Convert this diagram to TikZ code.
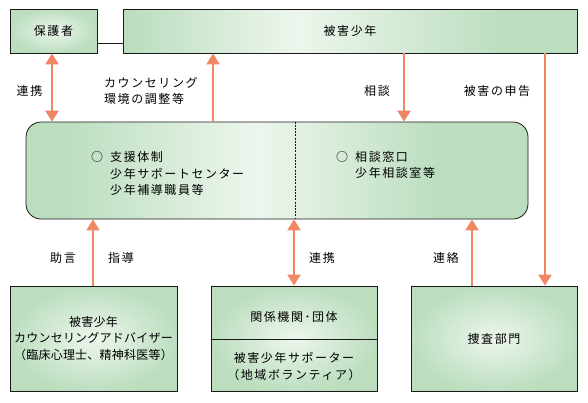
\documentclass[tikz,border=0pt]{standalone}
\usepackage{fontspec}
\setmainfont{Noto Sans CJK JP}[LetterSpace=13]
\newfontfamily\jpn{Noto Sans CJK JP}[LetterSpace=2]
\usetikzlibrary{arrows.meta,calc}
\definecolor{gA}{RGB}{188,222,191}
\definecolor{gL}{RGB}{237,246,237}
\definecolor{arr}{RGB}{240,134,98}
\definecolor{ink}{RGB}{25,25,25}
\pgfdeclarehorizontalshading{midsh}{100bp}{color(0bp)=(gA); color(29bp)=(gA); color(48bp)=(gL); color(66bp)=(gA); color(100bp)=(gA)}
\pgfdeclarehorizontalshading{topsh}{100bp}{color(0bp)=(gA); color(26bp)=(gA); color(44bp)=(gL); color(67bp)=(gA); color(100bp)=(gA)}
\tikzset{
  box/.style={draw=ink, line width=0.8pt, inner sep=0pt, shade, inner color=gL, outer color=gA},
  hbox/.style={draw=ink, line width=0.8pt, inner sep=0pt, shade, shading=topsh},
  lab/.style={inner sep=0pt, font=\fontsize{12}{16.5}\selectfont},
  conn/.style={draw=arr, line width=2pt},
  tipA/.style={-{Triangle[width=13pt,length=11pt]}},
  tipB/.style={{Triangle[width=13pt,length=11pt]}-{Triangle[width=13pt,length=11pt]}},
}
\begin{document}
\begin{tikzpicture}[x=1pt,y=-1pt]
\useasboundingbox (0,0) rectangle (588,402);
% boxes
\node[box, minimum width=87pt, minimum height=44pt] (guard) at (53.5,31) {};
\node[lab] at (guard.center) {保護者};
\node[hbox, minimum width=454pt, minimum height=44pt] (victim) at (350,31) {};
\node[lab] at (victim.center) {被害少年};
\node[draw=ink, line width=0.8pt, inner sep=0pt, shade, shading=midsh, rounded corners=15pt,
      minimum width=502pt, minimum height=97pt] (mid) at (277,170.5) {};
\draw[ink, line width=0.6pt, dash pattern=on 2pt off 1.2pt] (mid.north -| 295,0) coordinate (dv) -- (mid.south -| dv);
\node[lab] (c1) at (97,157) {○};
\node[lab, anchor=west, align=left] (t1) at (110,173.5) {支援体制\\少年サポートセンター\\少年補導職員等};
\node[lab] (c2) at (342,157) {○};
\node[lab, anchor=west, align=left] (t2) at (355,165) {相談窓口\\少年相談室等};
\node[box, minimum width=167pt, minimum height=105pt] (bl) at (93.5,338.5) {};
\node[lab, align=center, font=\jpn\fontsize{12}{16.5}\selectfont] at (bl.center) {被害少年\\カウンセリングアドバイザー\\（臨床心理士、精神科医等）};
\node[box, minimum width=166pt, minimum height=105pt] (bm) at (294,338.5) {};
\coordinate (bmd) at (294,339);
\draw[ink, line width=0.8pt] (bm.west |- bmd) -- (bm.east |- bmd);
\node[lab] at (294,317) {関係機関･団体};
\node[lab, align=center] at (294,366.5) {被害少年サポーター\\（地域ボランティア）};
\node[box, minimum width=166pt, minimum height=105pt] (br) at (494,338.5) {};
\node[lab] at (br.center) {捜査部門};
% connectors
\coordinate (ly) at (0,43);
\draw[ink, line width=0.8pt] (guard.east |- ly) -- (victim.west |- ly);
\coordinate (xa) at (52,0);
\coordinate (xb) at (213,0);
\coordinate (xc) at (404,0);
\coordinate (xd) at (545,0);
\coordinate (xe) at (93,0);
\coordinate (xf) at (294,0);
\coordinate (xg) at (472,0);
\draw[conn, tipB] (guard.south -| xa) -- (mid.north -| xa);
\draw[conn, tipA] (mid.north -| xb) -- (victim.south -| xb);
\draw[conn, tipA] (victim.south -| xc) -- (mid.north -| xc);
\draw[conn, tipA] (victim.south -| xd) -- (br.north -| xd);
\draw[conn, tipA] (bl.north -| xe) -- (mid.south -| xe);
\draw[conn, tipB] (mid.south -| xf) -- (bm.north -| xf);
\draw[conn, tipA] (br.north -| xg) -- (mid.south -| xg);
% labels
\node[lab] at (29.5,91) {連携};
\node[lab, anchor=west, align=left] at (104,91) {カウンセリング\\環境の調整等};
\node[lab] at (377,91) {相談};
\node[lab] at (497,91) {被害の申告};
\node[lab] at (63,258) {助言};
\node[lab] at (121,258) {指導};
\node[lab] at (322,258) {連携};
\node[lab] at (446,258) {連絡};
\end{tikzpicture}
\end{document}
